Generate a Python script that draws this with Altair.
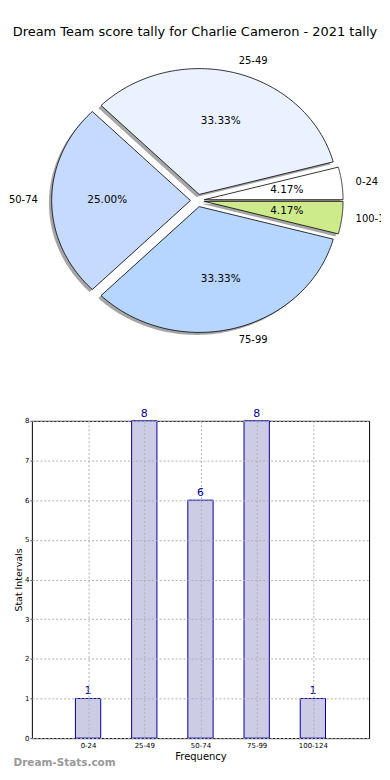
import json
import altair as alt
import pandas as pd

categories = ["0-24", "25-49", "50-74", "75-99", "100-124"]
counts = [1, 8, 6, 8, 1]
pie_colors = ["#ffffff", "#eaf1ff", "#c6d9ff", "#b6d6ff", "#cdeb8b"]
title_text = "Dream Team score tally for Charlie Cameron - 2021 tally"
x_title = "Frequency"
y_title = "Stat Intervals"
watermark = "Dream-Stats.com"

FONT = "DejaVu Sans"
EXPLODE = 0.05
N = 90

# layout (pixels)
L = 31
PIE_W = 382 - L
PIE_TOP = 41
PIE_H = 354
CX, CY = 197.4, 198.5
RX, RY = 139.5, 126.5
BAR_W = 370 - L
BAR_H = 319

x_dom = [-(CX - L) / RX, (L + PIE_W - CX) / RX]
y_dom = [-(PIE_TOP + PIE_H - CY) / RY, (CY - PIE_TOP) / RY]

df = pd.DataFrame({"idx": list(range(len(categories))), "cat": categories, "count": counts})

xs = alt.Scale(domain=x_dom, nice=False, zero=False)
ys = alt.Scale(domain=y_dom, nice=False, zero=False)
fill_scale = alt.Scale(domain=categories, range=pie_colors)

base = (
    alt.Chart(df)
    .transform_window(cum="sum(count)", sort=[alt.SortField("idx")], frame=[None, 0])
    .transform_joinaggregate(total="sum(count)")
    .transform_calculate(a0="2*PI*(datum.cum - datum.count)/datum.total")
    .transform_calculate(a1="2*PI*datum.cum/datum.total")
    .transform_calculate(mid="(datum.a0 + datum.a1)/2")
    .transform_calculate(ex=f"{EXPLODE}*cos(datum.mid)")
    .transform_calculate(ey=f"{EXPLODE}*sin(datum.mid)")
    .transform_calculate(lx="datum.ex + 1.1*cos(datum.mid)")
    .transform_calculate(ly="datum.ey + 1.1*sin(datum.mid)")
    .transform_calculate(qx="datum.ex + 0.6*cos(datum.mid)")
    .transform_calculate(qy="datum.ey + 0.6*sin(datum.mid)")
    .transform_calculate(pct="format(100*datum.count/datum.total, '.2f') + '%'")
)

poly = (
    base.transform_calculate(k=f"sequence(0, {N + 2})")
    .transform_flatten(["k"])
    .transform_calculate(t=f"clamp(datum.k - 1, 0, {N - 1})/{N - 1}")
    .transform_calculate(rr=f"(datum.k == 0 || datum.k == {N + 1}) ? 0 : 1")
    .transform_calculate(ang="datum.a0 + (datum.a1 - datum.a0)*datum.t")
    .transform_calculate(px="datum.ex + datum.rr*cos(datum.ang)")
    .transform_calculate(py="datum.ey + datum.rr*sin(datum.ang)")
    .transform_calculate(sx="datum.px - 0.02")
    .transform_calculate(sy="datum.py - 0.02")
)

shadow = poly.mark_line(strokeOpacity=0, fillOpacity=0.5).encode(
    x=alt.X("sx:Q", scale=xs, axis=None),
    y=alt.Y("sy:Q", scale=ys, axis=None),
    fill=alt.value("#4d4d4d"),
    detail="cat:N",
    order="k:Q",
)

slices = poly.mark_line(stroke="black", strokeWidth=0.8).encode(
    x=alt.X("px:Q", scale=xs, axis=None),
    y=alt.Y("py:Q", scale=ys, axis=None),
    fill=alt.Fill("cat:N", scale=fill_scale, legend=None),
    detail="cat:N",
    order="k:Q",
)

lab_r = base.transform_filter("cos(datum.mid) >= 0").mark_text(
    align="left", baseline="middle", fontSize=10, color="black", clip=True
).encode(x=alt.X("lx:Q", scale=xs, axis=None), y=alt.Y("ly:Q", scale=ys, axis=None), text="cat:N")

lab_l = base.transform_filter("cos(datum.mid) < 0").mark_text(
    align="right", baseline="middle", fontSize=10, color="black"
).encode(x=alt.X("lx:Q", scale=xs, axis=None), y=alt.Y("ly:Q", scale=ys, axis=None), text="cat:N")

pct = base.mark_text(align="center", baseline="middle", fontSize=10.5, color="black").encode(
    x=alt.X("qx:Q", scale=xs, axis=None), y=alt.Y("qy:Q", scale=ys, axis=None), text="pct:N"
)

pie = alt.layer(shadow, slices, lab_r, lab_l, pct).properties(
    width=PIE_W, height=PIE_H, view=alt.ViewBackground(stroke="transparent")
)

# ---- bar chart ----
dfb = pd.DataFrame({"pos": [i + 1 for i in range(len(categories))], "cat": categories, "count": counts})
bx = alt.Scale(domain=[0, len(categories) + 1], nice=False, zero=False)
by = alt.Scale(domain=[0, max(counts)], nice=False)
label_expr = f"{json.dumps(categories)}[datum.value - 1]"

x_axis = alt.Axis(
    values=list(dfb["pos"]), labelExpr=label_expr, title=x_title, grid=True,
    gridDash=[2, 2], gridColor="#b0b0b0", labelFontSize=7, titleFontSize=10,
    labelPadding=3, titlePadding=3, tickSize=0, domain=False, zindex=1,
    labelColor="black", titleColor="black", titleFontWeight="normal", labelOverlap=False,
)
y_axis = alt.Axis(
    values=list(range(max(counts) + 1)), title=y_title, grid=True,
    gridDash=[2, 2], gridColor="#b0b0b0", labelFontSize=7, titleFontSize=9.5,
    labelPadding=1, titlePadding=1, tickSize=2, tickColor="#555", domain=False, zindex=1,
    labelColor="black", titleColor="black", titleFontWeight="normal", labelOverlap=False,
)

bars = (
    alt.Chart(dfb)
    .transform_calculate(x0="datum.pos - 0.225", x1="datum.pos + 0.225")
    .mark_rect(fill="#ccccE6", stroke="#000099", strokeWidth=1)
    .encode(
        x=alt.X("x0:Q", scale=bx, axis=x_axis),
        x2="x1:Q",
        y=alt.Y("count:Q", scale=by, axis=y_axis),
        y2=alt.datum(0),
    )
)
vals = alt.Chart(dfb).mark_text(color="#000099", fontSize=11, baseline="alphabetic", dy=-4).encode(
    x=alt.X("pos:Q", scale=bx, axis=x_axis), y=alt.Y("count:Q", scale=by, axis=y_axis), text="count:Q"
)

bar = alt.layer(bars, vals).properties(
    width=BAR_W, height=BAR_H,
    view=alt.ViewBackground(stroke="black", strokeWidth=1),
    title=alt.Title(watermark, orient="bottom", anchor="start", color="#999999",
                    fontSize=10.5, fontWeight="bold", offset=-3),
)

chart = alt.vconcat(pie, bar, spacing=10).properties(
    title=alt.Title(title_text, fontSize=13, fontWeight="normal", anchor="middle", offset=4),
    padding={"top": 16, "left": 0, "right": 0, "bottom": 0},
).configure(font=FONT)

chart.save("out.html", embed_options={"renderer": "svg", "actions": False})
